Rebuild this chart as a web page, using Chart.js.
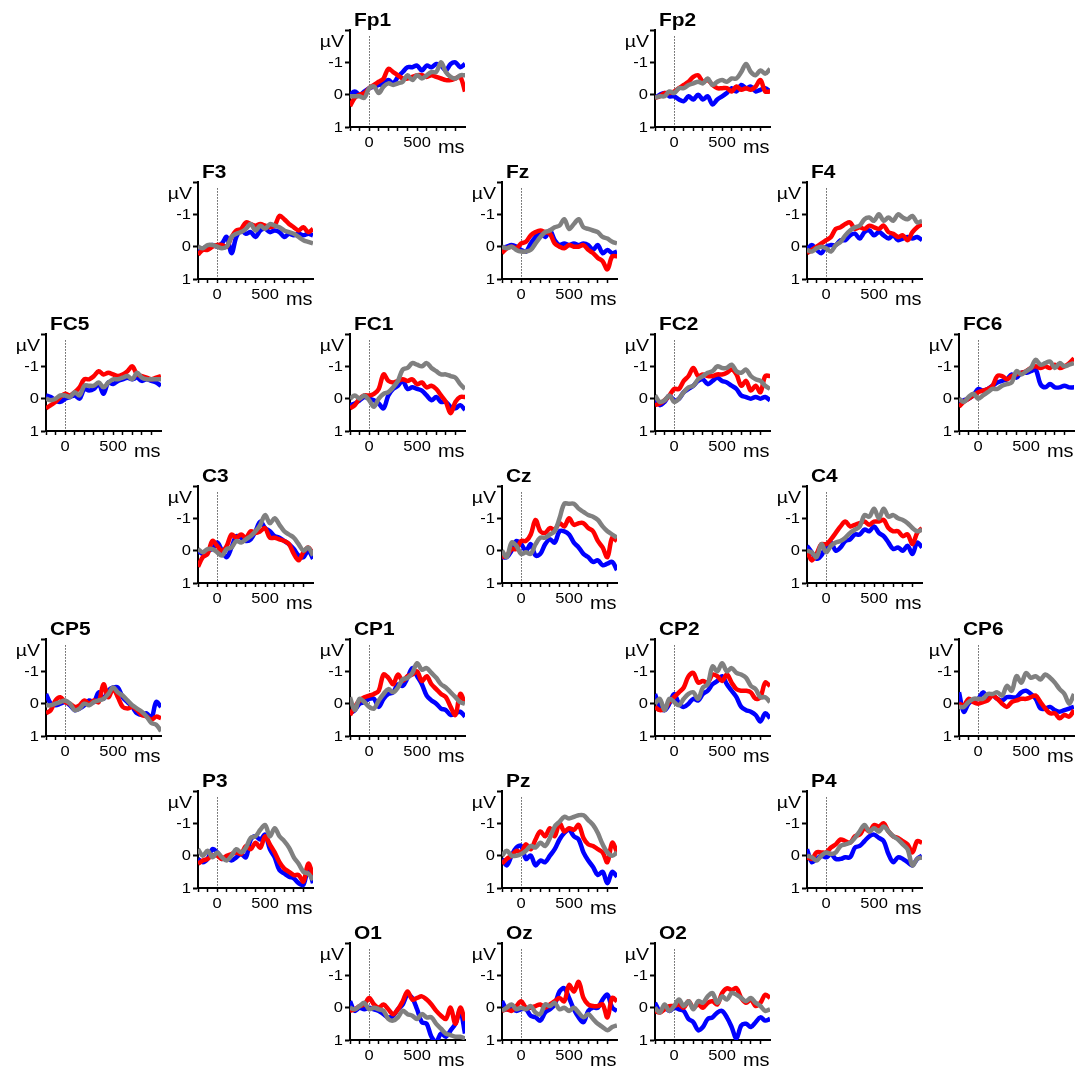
<!DOCTYPE html>
<html>
<head>
<meta charset="utf-8">
<title>ERP grand averages</title>
<script src="https://cdn.jsdelivr.net/npm/chart.js@4/dist/chart.umd.min.js"></script>
<style>
  html, body { margin: 0; padding: 0; background: #fff; overflow: hidden; }
  #montage { position: relative; width: 1077px; height: 1070px; }
  #montage canvas { position: absolute; }
</style>
</head>
<body>
<div id="montage"></div>
<script>
// Epoch sample times (ms), one value every 50 ms
const times = [-200, -150, -100, -50, 0, 50, 100, 150, 200, 250, 300, 350, 400,
               450, 500, 550, 600, 650, 700, 750, 800, 850, 900, 950, 1000];
// Axis ticks
const xTickValues = [-200, -100, 0, 100, 200, 300, 400, 500, 600, 700, 800, 900];
const xTickLabels = ['0', '500'];
const yTickValues = [-2, -1, 0, 1];
const yTickLabels = ['', '-1', '0', '1'];

// Amplitudes in µV per electrode: rows are blue, red and grey conditions
const Fp1 = [
  [0, -0.1, 0, -0.1, -0.2, -0.25, -0.3, -0.35, -0.45, -0.35, -0.55, -0.7, -0.85, -0.85, -0.9, -0.75, -0.9, -0.85, -0.95, -0.9, -0.75, -0.95, -1.0, -0.85, -0.95],
  [0.35, 0.1, 0, -0.05, -0.2, -0.3, -0.4, -0.5, -0.8, -0.7, -0.6, -0.5, -0.5, -0.55, -0.6, -0.6, -0.55, -0.6, -0.55, -0.5, -0.45, -0.45, -0.5, -0.55, -0.1],
  [0.05, 0.05, 0.05, 0.1, -0.2, -0.25, -0.05, -0.25, -0.35, -0.3, -0.35, -0.4, -0.6, -0.45, -0.6, -0.5, -0.6, -0.7, -0.7, -1.0, -0.7, -0.55, -0.5, -0.6, -0.6]
];
const Fp2 = [
  [0.1, 0, -0.05, 0.05, 0.05, 0.15, 0.2, 0.05, 0.15, 0, 0.15, 0.05, 0.3, 0.15, 0.05, -0.05, -0.2, -0.1, -0.3, -0.2, -0.25, -0.1, -0.15, -0.2, -0.1],
  [0.1, 0.05, -0.05, -0.05, -0.1, -0.2, -0.3, -0.4, -0.55, -0.6, -0.4, -0.45, -0.3, -0.2, -0.2, -0.2, -0.1, -0.25, -0.15, -0.2, -0.15, -0.25, -0.45, -0.1, -0.1],
  [0.1, 0.05, 0.05, -0.1, -0.05, -0.2, -0.2, -0.3, -0.35, -0.4, -0.35, -0.5, -0.3, -0.4, -0.45, -0.4, -0.5, -0.5, -0.7, -0.95, -0.7, -0.6, -0.75, -0.65, -0.8]
];
const F3 = [
  [0.1, 0.05, 0, -0.05, 0, -0.1, -0.3, 0.2, -0.3, -0.5, -0.4, -0.45, -0.3, -0.5, -0.55, -0.45, -0.5, -0.45, -0.3, -0.4, -0.35, -0.4, -0.35, -0.4, -0.35],
  [0.25, 0.1, 0.1, 0, -0.05, -0.05, 0, -0.3, -0.5, -0.55, -0.75, -0.7, -0.65, -0.7, -0.65, -0.6, -0.65, -0.95, -0.85, -0.7, -0.6, -0.5, -0.6, -0.45, -0.55],
  [0, 0.05, -0.05, -0.05, 0, 0.05, 0, -0.3, -0.4, -0.45, -0.55, -0.7, -0.5, -0.65, -0.55, -0.7, -0.65, -0.6, -0.5, -0.45, -0.4, -0.3, -0.2, -0.15, -0.1]
];
const Fz = [
  [0.05, 0, -0.05, 0, 0.1, 0.15, -0.1, -0.3, -0.45, -0.3, -0.5, -0.2, -0.05, -0.1, -0.05, -0.1, -0.05, -0.1, -0.05, 0.1, -0.05, 0.2, 0.1, 0.2, 0.15],
  [0.2, 0.05, 0, 0.05, -0.1, -0.15, -0.35, -0.45, -0.5, -0.45, -0.4, -0.1, 0, 0.05, -0.05, 0, 0, -0.05, 0.1, 0.2, 0.35, 0.45, 0.7, 0.3, 0.3],
  [0, 0.05, 0, 0.1, 0.15, 0.15, 0.1, -0.1, -0.3, -0.45, -0.5, -0.6, -0.65, -0.85, -0.55, -0.7, -0.85, -0.6, -0.55, -0.5, -0.45, -0.3, -0.25, -0.15, -0.1]
];
const F4 = [
  [0.1, -0.05, 0.1, 0.2, 0, -0.05, -0.05, -0.2, -0.2, -0.35, -0.4, -0.25, -0.45, -0.5, -0.35, -0.45, -0.35, -0.25, -0.35, -0.2, -0.25, -0.3, -0.25, -0.3, -0.2],
  [0.2, 0.1, 0, -0.1, -0.2, -0.3, -0.55, -0.6, -0.7, -0.75, -0.55, -0.6, -0.55, -0.65, -0.6, -0.55, -0.65, -0.45, -0.4, -0.3, -0.35, -0.2, -0.45, -0.6, -0.7],
  [0.1, 0.15, 0.05, 0, 0.05, 0.15, -0.05, -0.15, -0.35, -0.5, -0.6, -0.65, -0.85, -0.9, -0.8, -1.0, -0.8, -0.9, -0.8, -1.0, -0.9, -0.85, -0.95, -0.75, -0.8]
];
const FC5 = [
  [-0.1, -0.05, 0.05, 0.1, 0, -0.05, -0.1, 0, -0.3, -0.25, -0.3, -0.45, -0.15, -0.5, -0.45, -0.55, -0.6, -0.65, -0.6, -0.65, -0.55, -0.6, -0.55, -0.5, -0.4],
  [0.3, 0.2, 0.1, -0.05, -0.15, -0.1, -0.2, -0.35, -0.6, -0.6, -0.7, -0.85, -0.75, -0.8, -0.75, -0.7, -0.75, -0.85, -1.0, -0.75, -0.7, -0.65, -0.6, -0.65, -0.7],
  [0, 0.05, 0, -0.1, -0.1, -0.05, -0.2, -0.1, -0.4, -0.4, -0.4, -0.5, -0.35, -0.5, -0.6, -0.6, -0.65, -0.7, -0.6, -0.8, -0.65, -0.6, -0.6, -0.6, -0.6]
];
const FC1 = [
  [0.2, 0.15, 0.05, -0.05, 0, 0.05, 0.15, 0.3, -0.1, -0.3, -0.4, -0.55, -0.3, -0.35, -0.3, -0.25, -0.1, 0.05, -0.05, 0.1, 0.1, 0.25, 0.3, 0.2, 0.35],
  [0.3, 0.2, 0, -0.1, -0.1, -0.15, -0.3, -0.75, -0.55, -0.5, -0.55, -0.6, -0.55, -0.6, -0.45, -0.5, -0.35, -0.4, -0.3, -0.1, 0.1, 0.45, 0.1, -0.05, -0.05],
  [0, -0.1, 0, -0.1, 0.05, 0.25, 0, -0.15, -0.2, -0.35, -0.55, -0.9, -0.95, -1.1, -1.05, -1.0, -1.1, -0.95, -0.85, -0.75, -0.75, -0.7, -0.65, -0.45, -0.3]
];
const FC2 = [
  [0.05, 0.2, 0.1, -0.1, 0.05, 0, -0.2, -0.3, -0.4, -0.55, -0.6, -0.45, -0.55, -0.65, -0.55, -0.5, -0.4, -0.3, -0.1, -0.05, 0, -0.05, 0, -0.05, 0.05],
  [0.2, 0.15, 0.05, -0.1, -0.3, -0.3, -0.55, -0.7, -0.95, -0.7, -0.75, -0.7, -0.7, -0.75, -0.75, -0.8, -0.9, -0.75, -0.4, -0.55, -0.25, -0.4, -0.2, -0.7, -0.7],
  [-0.1, 0.1, 0.05, -0.1, 0.1, 0, -0.2, -0.35, -0.4, -0.6, -0.7, -0.8, -0.85, -1.0, -0.95, -0.95, -1.05, -0.85, -0.8, -0.9, -0.7, -0.6, -0.55, -0.4, -0.3]
];
const FC6 = [
  [0.1, 0.05, 0, -0.1, -0.3, -0.25, -0.3, -0.4, -0.5, -0.55, -0.6, -0.75, -0.65, -0.8, -0.8, -0.85, -0.9, -0.45, -0.35, -0.45, -0.35, -0.35, -0.4, -0.35, -0.35],
  [0.25, 0.1, 0, -0.1, -0.2, -0.25, -0.3, -0.4, -0.7, -0.7, -0.6, -0.7, -0.75, -0.8, -0.85, -0.95, -1.0, -0.95, -1.0, -0.95, -1.05, -0.95, -1.0, -1.1, -1.25],
  [0, 0.1, -0.05, -0.15, 0, -0.1, -0.2, -0.3, -0.3, -0.4, -0.45, -0.5, -0.85, -0.75, -0.85, -0.95, -1.2, -1.05, -1.1, -1.15, -0.95, -1.1, -1.0, -1.05, -1.1]
];
const C3 = [
  [0, 0.1, 0, -0.05, -0.25, 0, 0.2, -0.1, -0.45, -0.4, -0.3, -0.35, -0.6, -0.9, -0.7, -0.6, -0.45, -0.4, -0.3, -0.2, -0.05, 0.15, 0.2, 0, 0.25],
  [0.5, 0.2, 0.1, -0.3, -0.15, 0, -0.15, -0.5, -0.4, -0.5, -0.4, -0.6, -0.55, -0.6, -0.7, -0.4, -0.4, -0.35, -0.3, -0.2, 0.1, 0.3, 0.05, -0.1, 0.1],
  [-0.05, 0.05, -0.05, -0.05, 0.05, 0.15, -0.05, -0.1, -0.3, -0.25, -0.35, -0.45, -0.6, -0.8, -1.1, -0.85, -1.0, -0.8, -0.6, -0.5, -0.4, -0.2, 0, -0.1, 0.15]
];
const Cz = [
  [0.2, 0.2, 0, -0.3, -0.2, 0, -0.2, 0.15, 0.1, -0.2, -0.35, -0.25, -0.6, -0.6, -0.5, -0.25, -0.1, 0.1, 0.2, 0.35, 0.3, 0.45, 0.4, 0.35, 0.6],
  [0.2, 0.15, -0.05, -0.05, -0.3, -0.3, -0.5, -0.95, -0.6, -0.55, -0.7, -0.65, -0.85, -0.75, -1.0, -0.8, -0.85, -0.85, -0.7, -0.6, -0.3, -0.1, 0.2, -0.4, -0.3],
  [0, 0.2, -0.25, -0.15, 0.1, 0.05, 0.1, -0.2, -0.4, -0.4, -0.5, -0.6, -1.0, -1.45, -1.45, -1.45, -1.3, -1.2, -1.1, -1.05, -0.95, -0.75, -0.6, -0.5, -0.4]
];
const C4 = [
  [-0.15, 0.05, 0.25, 0.15, -0.15, -0.25, 0, -0.1, -0.3, -0.35, -0.5, -0.5, -0.65, -0.6, -0.75, -0.55, -0.45, -0.25, -0.05, -0.1, 0, -0.15, 0.1, -0.25, -0.1],
  [0, 0.3, 0.1, -0.2, -0.2, -0.35, -0.55, -0.75, -0.9, -0.75, -0.8, -0.85, -0.9, -0.8, -0.9, -0.9, -0.95, -0.7, -0.6, -0.6, -0.45, -0.5, -0.2, -0.55, -0.7],
  [0, 0.05, 0.2, -0.2, 0.05, -0.15, -0.25, -0.3, -0.4, -0.55, -0.65, -0.75, -1.1, -1.05, -1.3, -1.0, -1.3, -1.05, -1.1, -1.0, -0.95, -0.85, -0.7, -0.6, -0.65]
];
const CP5 = [
  [-0.3, 0, 0.05, 0, -0.05, 0.05, 0.2, 0.15, 0.05, -0.1, -0.05, -0.35, -0.15, -0.4, -0.5, -0.5, -0.2, -0.05, 0.1, 0.3, 0.35, 0.3, 0.45, -0.05, 0.1],
  [0.3, 0.2, -0.1, -0.2, -0.05, 0, 0.1, 0.05, -0.1, 0, -0.1, -0.05, -0.6, -0.2, -0.45, -0.2, 0.1, 0.15, 0.1, 0.2, 0.35, 0.4, 0.5, 0.4, 0.45],
  [0.05, 0.05, 0, -0.05, -0.1, 0, 0.2, 0.15, 0, 0.05, -0.05, -0.1, -0.15, -0.3, -0.5, -0.35, -0.25, -0.1, 0.05, 0.15, 0.25, 0.4, 0.6, 0.65, 0.85]
];
const CP1 = [
  [0.3, 0.2, 0, -0.05, -0.15, -0.15, 0.1, -0.15, -0.3, -0.35, -0.6, -0.55, -0.8, -1.1, -0.85, -0.6, -0.25, -0.1, 0, 0.15, 0.2, 0.35, 0.3, 0.25, 0.4],
  [0.35, 0.1, -0.1, -0.2, -0.25, -0.3, -0.4, -0.9, -0.8, -0.6, -0.9, -0.7, -0.85, -0.9, -1.0, -0.7, -0.85, -0.6, -0.45, -0.3, -0.2, 0.1, 0.35, -0.3, 0],
  [-0.2, 0.2, -0.15, -0.05, 0.1, 0.15, -0.1, -0.3, -0.45, -0.35, -0.5, -0.75, -0.8, -0.95, -1.25, -1.05, -1.1, -0.95, -0.8, -0.6, -0.5, -0.35, -0.2, -0.05, 0]
];
const CP2 = [
  [-0.3, 0.1, 0.2, 0, -0.3, 0, 0.1, 0, -0.15, -0.1, -0.3, -0.4, -0.6, -0.7, -0.85, -0.6, -0.4, -0.2, 0.1, 0.2, 0.25, 0.35, 0.55, 0.3, 0.45],
  [0.1, 0.2, 0.15, -0.05, -0.2, -0.35, -0.5, -0.85, -0.95, -0.65, -0.7, -0.65, -0.9, -0.85, -0.7, -0.9, -0.65, -0.45, -0.4, -0.4, -0.35, -0.15, -0.2, -0.65, -0.55],
  [0, -0.15, 0.2, -0.15, -0.05, 0.05, -0.15, -0.3, -0.35, -0.15, -0.5, -0.6, -1.15, -1.0, -1.25, -1.0, -1.1, -0.95, -0.9, -0.8, -0.55, -0.45, -0.2, -0.2, -0.05]
];
const CP6 = [
  [-0.35, 0.25, 0, -0.1, -0.15, -0.35, -0.2, -0.25, -0.15, -0.1, -0.2, -0.2, -0.2, -0.35, -0.4, -0.3, -0.15, 0.15, 0.15, 0.1, 0.2, 0.25, 0.2, 0.15, 0.1],
  [0, 0.05, -0.15, -0.05, 0, -0.05, -0.1, -0.25, -0.15, 0, 0.1, -0.05, -0.1, -0.15, -0.15, -0.2, -0.25, -0.05, 0.15, 0.3, 0.3, 0.45, 0.35, 0.4, 0.2],
  [0.1, 0.1, -0.05, -0.15, -0.15, -0.15, -0.3, -0.3, -0.35, -0.25, -0.55, -0.4, -0.85, -0.65, -0.95, -0.8, -0.85, -0.75, -0.9, -0.8, -0.65, -0.45, -0.3, 0, -0.3]
];
const P3 = [
  [0.1, 0.2, 0.1, -0.2, -0.1, 0.1, 0.05, 0.15, 0.05, -0.05, 0.05, -0.5, -0.6, -0.5, -0.65, -0.2, 0.05, 0.45, 0.55, 0.65, 0.7, 0.85, 0.9, 0.4, 0.85],
  [0.25, 0.15, 0.1, 0, 0, 0.1, 0, -0.05, -0.1, -0.05, -0.3, -0.2, -0.4, -0.25, -0.6, -0.35, -0.1, 0.2, 0.4, 0.5, 0.6, 0.6, 0.8, 0.25, 0.6],
  [-0.2, 0, -0.15, 0.05, -0.1, 0.05, 0.15, 0, -0.2, -0.1, -0.25, -0.55, -0.6, -0.8, -0.95, -0.6, -0.85, -0.6, -0.45, -0.25, 0.05, 0.25, 0.5, 0.55, 0.75]
];
const Pz = [
  [0.1, 0.3, 0, -0.25, -0.3, 0.1, 0, 0.3, 0.15, 0.2, 0, -0.2, -0.5, -0.7, -0.8, -0.6, -0.5, -0.1, 0.15, 0.35, 0.6, 0.5, 0.85, 0.5, 0.65],
  [0.25, 0.1, 0, -0.15, -0.1, -0.35, -0.2, -0.5, -0.75, -0.6, -0.85, -0.6, -1.0, -0.75, -0.85, -0.8, -0.95, -0.55, -0.35, -0.3, -0.2, -0.1, 0.2, -0.4, -0.1],
  [0, -0.15, 0, 0, -0.05, -0.15, -0.3, -0.25, -0.4, -0.3, -0.55, -0.9, -1.05, -1.2, -1.15, -1.2, -1.25, -1.25, -1.1, -0.95, -0.7, -0.35, -0.1, 0, -0.1]
];
const P4 = [
  [-0.2, 0.2, 0.1, 0, 0.05, -0.05, 0.1, 0.1, 0.05, 0.05, -0.25, -0.3, -0.45, -0.6, -0.65, -0.55, -0.45, -0.05, 0.2, 0.05, 0.1, 0.2, 0.3, 0.1, 0],
  [0.05, 0.1, -0.1, -0.1, -0.1, -0.25, -0.35, -0.5, -0.45, -0.4, -0.6, -0.65, -0.85, -0.75, -0.95, -0.9, -1.0, -0.75, -0.6, -0.55, -0.45, -0.35, -0.1, -0.45, -0.4],
  [0, 0.05, 0.15, 0, -0.1, -0.05, -0.1, -0.3, -0.35, -0.4, -0.55, -0.75, -0.95, -0.75, -0.85, -0.75, -0.9, -0.75, -0.6, -0.5, -0.35, -0.2, 0.3, 0.1, 0.05]
];
const O1 = [
  [-0.2, 0.1, 0, 0.05, 0, 0.05, 0.1, 0.2, 0.3, 0.25, 0.05, -0.1, -0.4, -0.3, 0.05, 0.45, 0.5, 0.9, 1.05, 0.8, 0.9, 0.7, 0.5, 0.1, 0.8],
  [0.1, 0.05, -0.05, -0.1, -0.3, -0.1, 0, -0.1, 0.05, 0.2, 0.05, -0.2, -0.5, -0.25, -0.3, -0.35, -0.25, -0.1, 0.1, 0.25, 0.35, 0, 0.5, 0, 0.4],
  [0, 0.05, -0.05, -0.15, 0.05, 0, 0.05, 0.1, 0.35, 0.4, 0.3, 0.1, 0.2, 0.25, 0.35, 0.2, 0.3, 0.3, 0.5, 0.65, 0.8, 0.85, 0.9, 0.9, 0.95]
];
const Oz = [
  [-0.2, 0.05, 0, 0.1, 0.05, 0.05, 0.25, 0.3, 0.4, 0.15, 0.05, -0.1, -0.5, -0.6, -0.3, 0.05, 0.3, 0.45, 0.1, 0, 0, -0.25, -0.4, 0, 0.1],
  [0.1, 0.05, 0.1, -0.05, -0.2, 0, 0, -0.05, -0.1, 0, -0.1, -0.2, -0.3, -0.2, -0.7, -0.5, -0.8, -0.3, -0.1, -0.05, -0.05, -0.1, 0.3, -0.3, -0.2],
  [0.1, 0, -0.1, 0.05, 0, 0.05, -0.05, 0.15, 0.2, -0.1, -0.05, -0.15, 0.05, 0, 0.1, 0, 0.15, 0.3, 0.2, 0.35, 0.5, 0.6, 0.7, 0.6, 0.55]
];
const O2 = [
  [-0.15, 0.1, 0, 0.1, 0, 0.05, 0.1, 0.35, 0.45, 0.7, 0.6, 0.35, 0.3, 0.15, 0.1, 0.3, 0.6, 0.95, 0.55, 0.5, 0.6, 0.45, 0.3, 0.4, 0.35],
  [0.1, 0.15, 0.05, -0.05, -0.05, -0.1, 0, -0.2, 0, -0.1, 0, -0.15, -0.2, -0.1, -0.45, -0.6, -0.55, -0.6, -0.3, -0.15, -0.25, -0.05, -0.15, -0.4, -0.3],
  [0, 0.15, -0.1, 0.1, -0.05, -0.25, -0.05, -0.2, 0.05, -0.2, -0.15, -0.35, -0.45, -0.15, -0.35, -0.25, -0.45, -0.4, -0.3, -0.2, -0.3, -0.15, -0.05, 0.1, 0.05]
];

// Electrode name, its data, and its cell in the scalp montage (column, row)
const montage = [
  ['Fp1', Fp1, 2, 0], ['Fp2', Fp2, 4, 0],
  ['F3', F3, 1, 1], ['Fz', Fz, 3, 1], ['F4', F4, 5, 1],
  ['FC5', FC5, 0, 2], ['FC1', FC1, 2, 2], ['FC2', FC2, 4, 2], ['FC6', FC6, 6, 2],
  ['C3', C3, 1, 3], ['Cz', Cz, 3, 3], ['C4', C4, 5, 3],
  ['CP5', CP5, 0, 4], ['CP1', CP1, 2, 4], ['CP2', CP2, 4, 4], ['CP6', CP6, 6, 4],
  ['P3', P3, 1, 5], ['Pz', Pz, 3, 5], ['P4', P4, 5, 5],
  ['O1', O1, 2, 6], ['Oz', Oz, 3, 6], ['O2', O2, 4, 6]
];

// ---- styling / geometry ----
const LINE_COLORS = ['#0000ff', '#ff0000', '#808080'];
const FONT = '"Liberation Sans", Arial, Helvetica, sans-serif';
const CELL = 152.25;          // distance between neighbouring panels
const ORIGIN_X = 45.5;        // y-axis of the left-most column
const ORIGIN_Y = 94.3;        // zero line of the top row
const AXIS_W = 45;            // room left of the plot for µV labels
const PAD_TOP = 30;           // room above the plot for the electrode name
const PLOT_W = 115;
const PLOT_H = 97;
const CANVAS_W = 170;
const CANVAS_H = 165;

function stretchedText(ctx, text, x, y, align, font, sx, baseline) {
  ctx.save();
  ctx.font = font;
  ctx.textAlign = align;
  ctx.textBaseline = baseline || 'alphabetic';
  ctx.translate(x, y);
  ctx.scale(sx, 1);
  ctx.fillText(text, 0, 0);
  ctx.restore();
}

const panelDecor = {
  id: 'panelDecor',
  beforeDatasetsDraw(chart) {
    const { ctx, chartArea, scales: { x, y } } = chart;
    const px = Math.round(x.getPixelForValue(0)) + 0.5;
    ctx.save();
    ctx.strokeStyle = '#000';
    ctx.lineWidth = 1;
    ctx.setLineDash([1, 2]);
    ctx.beginPath();
    ctx.moveTo(px, y.getPixelForValue(-1.8));
    ctx.lineTo(px, chartArea.bottom);
    ctx.stroke();
    ctx.restore();
  },
  afterDraw(chart, args, opts) {
    const { ctx, chartArea: ca, scales: { x, y } } = chart;
    const zy = y.getPixelForValue(0);
    ctx.save();
    ctx.fillStyle = '#000';
    stretchedText(ctx, opts.title, ca.left + 4, zy - 68.5, 'left', 'bold 19px ' + FONT, 1.1);
    stretchedText(ctx, 'µV', ca.left - 6, zy - 47.5, 'right', '17px ' + FONT, 1.15);
    yTickValues.forEach((v, i) => {
      if (yTickLabels[i]) {
        stretchedText(ctx, yTickLabels[i], ca.left - 7, y.getPixelForValue(v) + 0.5,
                      'right', '15px ' + FONT, 1.1, 'middle');
      }
    });
    xTickLabels.forEach(lbl => {
      stretchedText(ctx, lbl, x.getPixelForValue(Number(lbl)), zy + 48.5,
                    'center', '15px ' + FONT, 1.1, 'middle');
    });
    stretchedText(ctx, 'ms', ca.left + 88, zy + 58, 'left', '19px ' + FONT, 1.05);
    ctx.restore();
  }
};

const host = document.getElementById('montage');

montage.forEach(([name, rows, col, row]) => {
  const axisX = Math.round(ORIGIN_X + col * CELL);
  const zeroY = ORIGIN_Y + row * CELL;
  const canvas = document.createElement('canvas');
  canvas.width = CANVAS_W;
  canvas.height = CANVAS_H;
  canvas.style.left = (axisX - AXIS_W) + 'px';
  canvas.style.top = Math.round(zeroY - PLOT_H * 2 / 3 - PAD_TOP) + 'px';
  host.appendChild(canvas);

  const datasets = rows.map((vals, i) => ({
    label: name + ' ' + i,
    data: times.map((t, j) => ({ x: t, y: vals[j] })),
    borderColor: LINE_COLORS[i],
    borderWidth: 4.5,
    pointRadius: 0,
    tension: 0.35,
    fill: false,
    order: rows.length - 1 - i
  }));

  new Chart(canvas, {
    type: 'line',
    data: { datasets },
    options: {
      responsive: false,
      animation: false,
      devicePixelRatio: 1,
      events: [],
      layout: { padding: { left: 0, top: PAD_TOP, right: CANVAS_W - AXIS_W - PLOT_W, bottom: 0 } },
      plugins: {
        legend: { display: false },
        tooltip: { enabled: false },
        panelDecor: { title: name }
      },
      scales: {
        x: {
          type: 'linear', min: -200, max: 1000,
          afterBuildTicks(scale) { scale.ticks = xTickValues.map(v => ({ value: v })); },
          afterFit(scale) { scale.height = CANVAS_H - PAD_TOP - PLOT_H; },
          ticks: { display: false },
          grid: { drawOnChartArea: false, drawTicks: true, tickLength: 4, tickWidth: 1.5, tickColor: '#000' },
          border: { display: true, color: '#000', width: 2 }
        },
        y: {
          type: 'linear', min: -2, max: 1, reverse: true,
          afterBuildTicks(scale) { scale.ticks = yTickValues.map(v => ({ value: v })); },
          afterFit(scale) { scale.width = AXIS_W; },
          ticks: { display: false },
          grid: { drawOnChartArea: false, drawTicks: true, tickLength: 5, tickWidth: 2, tickColor: '#000' },
          border: { display: true, color: '#000', width: 2 }
        }
      }
    },
    plugins: [panelDecor]
  });
});
</script>
</body>
</html>
